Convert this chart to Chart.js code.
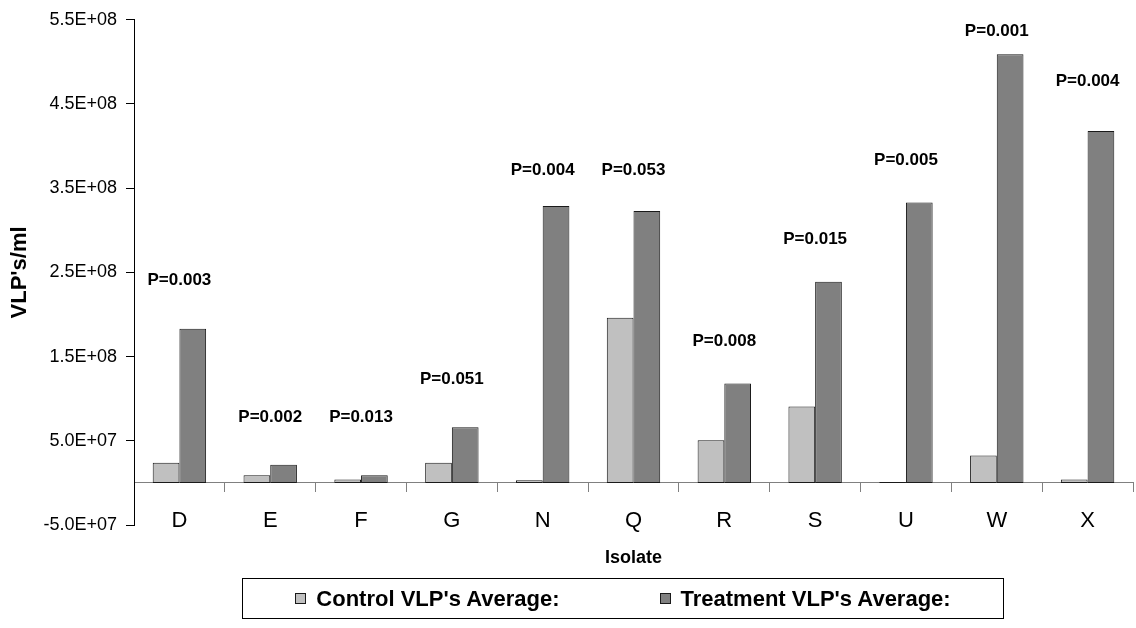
<!DOCTYPE html>
<html>
<head>
<meta charset="utf-8">
<script src="https://cdn.jsdelivr.net/npm/chart.js@4.4.1/dist/chart.umd.min.js"></script>
<style>
  body { margin: 0; background: #fff; }
  #wrap { position: relative; width: 1136px; height: 628px; }
  #legend {
    position: absolute; left: 242px; top: 578px; width: 760px; height: 39px;
    border: 1px solid #000; display: flex; align-items: center; justify-content: center;
    font: bold 22px "Liberation Sans", Arial, sans-serif; color: #000;
  }
  #legend .item { display: flex; align-items: center; }
  #legend .item + .item { margin-left: 100px; }
  #legend .box { width: 9px; height: 9px; margin-right: 10px; }
</style>
</head>
<body>
<div id="wrap">
  <canvas id="chart"></canvas>
  <div id="legend"></div>
</div>
<script>
// values
const categories = ['D', 'E', 'F', 'G', 'N', 'Q', 'R', 'S', 'U', 'W', 'X'];
const controlAvg = [2.4e7, 9e6, 4e6, 2.4e7, 3e6, 1.96e8, 5.06e7, 9.07e7, 1e6, 3.25e7, 4e6];
const treatmentAvg = [1.83e8, 2.15e7, 9e6, 6.6e7, 3.29e8, 3.23e8, 1.18e8, 2.39e8, 3.33e8, 5.09e8, 4.18e8];
const pValues = ['P=0.003', 'P=0.002', 'P=0.013', 'P=0.051', 'P=0.004', 'P=0.053',
                 'P=0.008', 'P=0.015', 'P=0.005', 'P=0.001', 'P=0.004'];
// height (in VLP's/ml) where each P label sits
const pLabelAt = [2.41e8, 7.8e7, 7.8e7, 1.23e8, 3.71e8, 3.71e8, 1.68e8, 2.89e8, 3.83e8, 5.36e8, 4.77e8];
const yMin = -5e7, yMax = 5.5e8, yStep = 1e8;

const FONT = '"Liberation Sans", Arial, sans-serif';

function sciLabel(v) {
  const parts = Number(v).toExponential(1).split('e');
  const e = Number(parts[1]);
  return parts[0] + 'E' + (e < 0 ? '-' : '+') + String(Math.abs(e)).padStart(2, '0');
}

const pLabelPlugin = {
  id: 'pLabels',
  afterDatasetsDraw(chart) {
    const ctx = chart.ctx;
    const xs = chart.scales.x, ys = chart.scales.y;
    ctx.save();
    ctx.font = 'bold 17px ' + FONT;
    ctx.fillStyle = '#000';
    ctx.textAlign = 'center';
    ctx.textBaseline = 'middle';
    pValues.forEach((txt, i) => {
      ctx.fillText(txt, xs.getPixelForValue(i), ys.getPixelForValue(pLabelAt[i]));
    });
    ctx.restore();
  }
};

const data = {
  labels: categories,
  datasets: [{
    label: "Control VLP's Average:",
    data: controlAvg,
    backgroundColor: '#c0c0c0',
    borderColor: '#1a1a1a',
    borderWidth: 1,
    borderSkipped: false
  }, {
    label: "Treatment VLP's Average:",
    data: treatmentAvg,
    backgroundColor: '#808080',
    borderColor: '#1a1a1a',
    borderWidth: 1,
    borderSkipped: false
  }]
};

const config = {
  type: 'bar',
  data: data,
  options: {
    responsive: true,
    maintainAspectRatio: false,
    animation: false,
    datasets: {
      bar: { categoryPercentage: 0.588, barPercentage: 1.0 }
    },
    layout: { padding: { top: 4, right: 3, bottom: 103, left: 0 } },
    plugins: {
      legend: { display: false },
      tooltip: { enabled: false }
    },
    scales: {
      x: {
        position: { y: 0 },
        grid: { display: true, drawOnChartArea: false, drawTicks: true, tickLength: 9, color: '#808080', offset: true },
        border: { display: true, color: '#808080', width: 1 },
        ticks: { color: '#000', font: { family: FONT, size: 22 }, padding: 16 },
        title: {
          display: true, text: 'Isolate', color: '#000',
          font: { family: FONT, size: 18, weight: 'bold' },
          padding: { top: -3, bottom: 0 }
        }
      },
      y: {
        min: yMin,
        max: yMax,
        afterFit(scale) { scale.width = 134; },
        grid: { display: true, drawOnChartArea: false, drawTicks: true, tickLength: 8, color: '#000' },
        border: { display: true, color: '#000', width: 1 },
        ticks: {
          stepSize: yStep,
          color: '#000',
          padding: 9,
          font: { family: FONT, size: 18 },
          callback: (v) => sciLabel(v)
        },
        title: {
          display: true, text: "VLP's/ml", color: '#000',
          font: { family: FONT, size: 22, weight: 'bold' },
          padding: { top: 7, bottom: 0 }
        }
      }
    }
  },
  plugins: [pLabelPlugin]
};

const myChart = new Chart(document.getElementById('chart'), config);

// legend box below the chart, built from the datasets
const legendEl = document.getElementById('legend');
myChart.data.datasets.forEach(ds => {
  const item = document.createElement('div');
  item.className = 'item';
  const box = document.createElement('span');
  box.className = 'box';
  box.style.background = ds.backgroundColor;
  box.style.border = '1px solid ' + ds.borderColor;
  const txt = document.createElement('span');
  txt.textContent = ds.label;
  item.appendChild(box);
  item.appendChild(txt);
  legendEl.appendChild(item);
});
</script>
</body>
</html>
